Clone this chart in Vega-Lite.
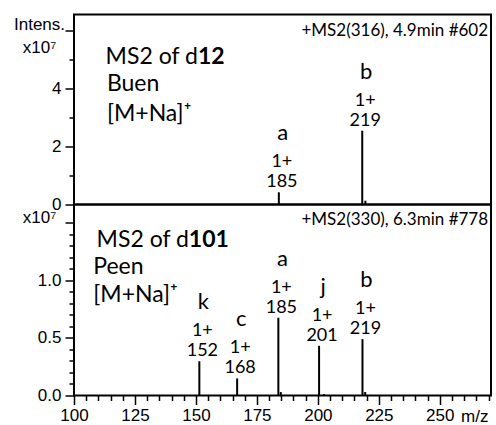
{
  "$schema": "https://vega.github.io/schema/vega-lite/v6.json",
  "padding": {"left": 12, "top": 13.5, "right": 2, "bottom": 0},
  "spacing": 0,
  "bounds": "flush",
  "background": "white",
  "config": {
    "view": {"stroke": "black", "strokeWidth": 2},
    "axis": {"domain": false, "grid": false, "tickColor": "black", "tickWidth": 1.5, "labelFont": "Liberation Sans", "labelFontSize": 17, "labelColor": "black", "titleFont": "Liberation Sans", "titleFontSize": 17, "titleFontWeight": "normal", "titleColor": "black", "labelOverlap": false, "labelFlush": false},
    "text": {"font": "Lato", "color": "black", "baseline": "alphabetic"}
  },
  "datasets": {
    "top": [
      {"mz": 184.0, "intensity": 0.42, "ion": "a", "charge": "1+", "label": "185"},
      {"mz": 218.2, "intensity": 2.54, "ion": "b", "charge": "1+", "label": "219"},
      {"mz": 219.5, "intensity": 0.13, "ion": "", "charge": "", "label": ""}
    ],
    "bottom": [
      {"mz": 151.4, "intensity": 0.298, "ion": "k", "charge": "1+", "label": "152"},
      {"mz": 166.9, "intensity": 0.148, "ion": "c", "charge": "1+", "label": "168"},
      {"mz": 183.8, "intensity": 0.676, "ion": "a", "charge": "1+", "label": "185"},
      {"mz": 184.8, "intensity": 0.03, "ion": "", "charge": "", "label": ""},
      {"mz": 200.5, "intensity": 0.432, "ion": "j", "charge": "1+", "label": "201"},
      {"mz": 202.5, "intensity": 0.012, "ion": "", "charge": "", "label": ""},
      {"mz": 218.3, "intensity": 0.49, "ion": "b", "charge": "1+", "label": "219"},
      {"mz": 219.4, "intensity": 0.03, "ion": "", "charge": "", "label": ""}
    ]
  },
  "resolve": {"scale": {"x": "independent", "y": "independent"}},
  "vconcat": [
    {
      "width": 417,
      "height": 190,
      "resolve": {"scale": {"x": "independent", "y": "independent"}, "axis": {"x": "independent", "y": "independent"}},
      "layer": [
        {
          "data": {"name": "top"},
          "encoding": {
            "x": {"field": "mz", "type": "quantitative", "scale": {"domain": [100, 271], "nice": false, "zero": false}, "axis": null},
            "y": {"field": "intensity", "type": "quantitative", "scale": {"domain": [0, 6.54], "nice": false},
              "axis": {
                "values": [0, 1, 2, 3, 4, 5, 6],
                "labelExpr": "datum.value % 2 === 0 && datum.value < 6 ? datum.label : ''",
                "tickSize": {"condition": {"test": "datum.value % 2 === 0", "value": 9}, "value": 5},
                "labelPadding": 4,
                "title": ["Intens.", "x10⁷"],
                "titleAngle": 0, "titleAlign": "center", "titleBaseline": "alphabetic",
                "titleX": -35, "titleY": 14.5, "titleLineHeight": 23
              }
            }
          },
          "layer": [
            {"mark": {"type": "rule", "strokeWidth": 2, "color": "black"}, "encoding": {"y2": {"datum": 0}}},
            {"mark": {"type": "text", "fontSize": 18, "dy": -5, "dx": 3}, "encoding": {"text": {"field": "label", "type": "nominal"}}},
            {"mark": {"type": "text", "fontSize": 18, "dy": -25, "dx": 3}, "encoding": {"text": {"field": "charge", "type": "nominal"}}},
            {"mark": {"type": "text", "fontSize": 22, "dy": -52, "dx": 4}, "encoding": {"text": {"field": "ion", "type": "nominal"}}}
          ]
        },
        {
          "data": {"values": [{"note": "MS2 of d"}]},
          "mark": {"type": "text", "fontSize": 23, "align": "right"},
          "encoding": {
            "x": {"datum": 150.8, "scale": {"domain": [100, 271], "nice": false, "zero": false}, "axis": null},
            "y": {"datum": 4.84, "scale": {"domain": [0, 6.54], "nice": false}, "axis": null},
            "text": {"field": "note", "type": "nominal"}}
        },
        {
          "data": {"values": [{"note": "12"}]},
          "mark": {"type": "text", "fontSize": 23, "fontWeight": "bold", "align": "left"},
          "encoding": {
            "x": {"datum": 150.8, "scale": {"domain": [100, 271], "nice": false, "zero": false}, "axis": null},
            "y": {"datum": 4.84, "scale": {"domain": [0, 6.54], "nice": false}, "axis": null},
            "text": {"field": "note", "type": "nominal"}}
        },
        {
          "data": {"values": [{"note": "Buen"}]},
          "mark": {"type": "text", "fontSize": 23, "align": "left"},
          "encoding": {
            "x": {"datum": 113.5, "scale": {"domain": [100, 271], "nice": false, "zero": false}, "axis": null},
            "y": {"datum": 3.92, "scale": {"domain": [0, 6.54], "nice": false}, "axis": null},
            "text": {"field": "note", "type": "nominal"}}
        },
        {
          "data": {"values": [{"note": "[M+Na]⁺"}]},
          "mark": {"type": "text", "fontSize": 23, "align": "left"},
          "encoding": {
            "x": {"datum": 113.5, "scale": {"domain": [100, 271], "nice": false, "zero": false}, "axis": null},
            "y": {"datum": 2.88, "scale": {"domain": [0, 6.54], "nice": false}, "axis": null},
            "text": {"field": "note", "type": "nominal"}}
        },
        {
          "data": {"values": [{"note": "+MS2(316), 4.9min #602"}]},
          "mark": {"type": "text", "fontSize": 17, "align": "right"},
          "encoding": {
            "x": {"datum": 269.8, "scale": {"domain": [100, 271], "nice": false, "zero": false}, "axis": null},
            "y": {"datum": 5.81, "scale": {"domain": [0, 6.54], "nice": false}, "axis": null},
            "text": {"field": "note", "type": "nominal"}}
        }
      ]
    },
    {
      "width": 417,
      "height": 191,
      "resolve": {"scale": {"x": "independent", "y": "independent"}, "axis": {"x": "independent", "y": "independent"}},
      "layer": [
        {
          "data": {"name": "bottom"},
          "encoding": {
            "x": {"field": "mz", "type": "quantitative", "scale": {"domain": [100, 271], "nice": false, "zero": false},
              "axis": {
                "values": [100, 105, 110, 115, 120, 125, 130, 135, 140, 145, 150, 155, 160, 165, 170, 175, 180, 185, 190, 195, 200, 205, 210, 215, 220, 225, 230, 235, 240, 245, 250, 255, 260, 265, 270],
                "labelExpr": "datum.value % 25 === 0 ? datum.label : ''",
                "tickSize": {"condition": {"test": "datum.value % 25 === 0", "value": 9}, "value": 5},
                "labelPadding": 3,
                "title": "m/z",
                "titleAlign": "right", "titleAnchor": "end", "titleBaseline": "middle",
                "titleX": 414, "titleY": 21
              }
            },
            "y": {"field": "intensity", "type": "quantitative", "scale": {"domain": [0, 1.66], "nice": false},
              "axis": {
                "values": [0, 0.1, 0.2, 0.3, 0.4, 0.5, 0.6, 0.7, 0.8, 0.9, 1.0, 1.1, 1.2, 1.3, 1.4, 1.5],
                "labelExpr": "datum.value < 1.4 && abs(datum.value * 2 - round(datum.value * 2)) < 0.001 ? format(datum.value, '.1f') : ''",
                "tickSize": {"condition": {"test": "abs(datum.value * 2 - round(datum.value * 2)) < 0.001", "value": 9}, "value": 5},
                "labelPadding": 4,
                "title": "x10⁷",
                "titleAngle": 0, "titleAlign": "center", "titleBaseline": "alphabetic",
                "titleX": -35, "titleY": 17.8
              }
            }
          },
          "layer": [
            {"mark": {"type": "rule", "strokeWidth": 2, "color": "black"}, "encoding": {"y2": {"datum": 0}}},
            {"mark": {"type": "text", "fontSize": 18, "dy": -5, "dx": 3}, "encoding": {"text": {"field": "label", "type": "nominal"}}},
            {"mark": {"type": "text", "fontSize": 18, "dy": -25, "dx": 3}, "encoding": {"text": {"field": "charge", "type": "nominal"}}},
            {"mark": {"type": "text", "fontSize": 22, "dy": -52, "dx": 4}, "encoding": {"text": {"field": "ion", "type": "nominal"}}}
          ]
        },
        {
          "data": {"values": [{"note": "MS2 of d"}]},
          "mark": {"type": "text", "fontSize": 23, "align": "right"},
          "encoding": {
            "x": {"datum": 147.1, "scale": {"domain": [100, 271], "nice": false, "zero": false}, "axis": null},
            "y": {"datum": 1.293, "scale": {"domain": [0, 1.66], "nice": false}, "axis": null},
            "text": {"field": "note", "type": "nominal"}}
        },
        {
          "data": {"values": [{"note": "101"}]},
          "mark": {"type": "text", "fontSize": 23, "fontWeight": "bold", "align": "left"},
          "encoding": {
            "x": {"datum": 147.1, "scale": {"domain": [100, 271], "nice": false, "zero": false}, "axis": null},
            "y": {"datum": 1.293, "scale": {"domain": [0, 1.66], "nice": false}, "axis": null},
            "text": {"field": "note", "type": "nominal"}}
        },
        {
          "data": {"values": [{"note": "Peen"}]},
          "mark": {"type": "text", "fontSize": 23, "align": "left"},
          "encoding": {
            "x": {"datum": 107.9, "scale": {"domain": [100, 271], "nice": false, "zero": false}, "axis": null},
            "y": {"datum": 1.052, "scale": {"domain": [0, 1.66], "nice": false}, "axis": null},
            "text": {"field": "note", "type": "nominal"}}
        },
        {
          "data": {"values": [{"note": "[M+Na]⁺"}]},
          "mark": {"type": "text", "fontSize": 23, "align": "left"},
          "encoding": {
            "x": {"datum": 107.9, "scale": {"domain": [100, 271], "nice": false, "zero": false}, "axis": null},
            "y": {"datum": 0.809, "scale": {"domain": [0, 1.66], "nice": false}, "axis": null},
            "text": {"field": "note", "type": "nominal"}}
        },
        {
          "data": {"values": [{"note": "+MS2(330), 6.3min #778"}]},
          "mark": {"type": "text", "fontSize": 17, "align": "right"},
          "encoding": {
            "x": {"datum": 269.8, "scale": {"domain": [100, 271], "nice": false, "zero": false}, "axis": null},
            "y": {"datum": 1.481, "scale": {"domain": [0, 1.66], "nice": false}, "axis": null},
            "text": {"field": "note", "type": "nominal"}}
        }
      ]
    }
  ]
}
